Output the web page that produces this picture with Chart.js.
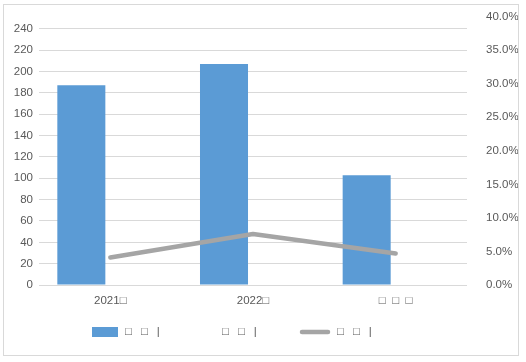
<!DOCTYPE html>
<html>
<head>
<meta charset="utf-8">
<script src="https://cdn.jsdelivr.net/npm/chart.js@4"></script>
<style>
  body { margin: 0; background: #fff; }
  #wrap { position: relative; width: 526px; height: 362px; }
  #frame { position: absolute; left: 3px; top: 4px; width: 514px; height: 350px; border: 1px solid #d9d9d9; pointer-events: none; }
</style>
</head>
<body>
<div id="wrap">
  <canvas id="chart" width="526" height="362"></canvas>
  <div id="frame"></div>
</div>
<script>
const categories = ['2021\u25A1', '2022\u25A1', '\u25A1  \u25A1  \u25A1'];
const seriesNames = ['\u25A1\u2002 \u25A1\u2002 |', '\u25A1\u2002 \u25A1\u2002 |', '\u25A1\u2002 \u25A1\u2002 |'];
const barValues = [187.2, 207.2, 102.8];
const otherBarValues = [null, null, null];
const growthValues = [0.041, 0.076, 0.047];
const leftTicks = [0, 20, 40, 60, 80, 100, 120, 140, 160, 180, 200, 220, 240];

const textColor = '#595959';
const font = { family: 'Liberation Sans', size: 11.5 };

// legend drawn by hand so the swatches match the original
const legendPlugin = {
  id: 'manualLegend',
  afterDraw(chart) {
    const ctx = chart.ctx;
    const y = 332;
    const items = [
      { x: 92, w: 26, type: 'rect', ds: chart.data.datasets[0] },
      { x: 189, w: 26, type: 'none', ds: chart.data.datasets[1] },
      { x: 300, w: 30, type: 'line', ds: chart.data.datasets[2] }
    ];
    ctx.save();
    ctx.font = font.size + 'px ' + font.family;
    ctx.textBaseline = 'middle';
    items.forEach(it => {
      if (it.type === 'rect') {
        ctx.fillStyle = it.ds.backgroundColor;
        ctx.fillRect(it.x, y - 5, it.w, 10);
      } else if (it.type === 'line') {
        ctx.strokeStyle = it.ds.borderColor;
        ctx.lineWidth = 4.5;
        ctx.lineCap = 'round';
        ctx.beginPath();
        ctx.moveTo(it.x + 2, y);
        ctx.lineTo(it.x + it.w - 2, y);
        ctx.stroke();
      }
      ctx.fillStyle = textColor;
      ctx.fillText(it.ds.label, it.x + it.w + 7, y);
    });
    ctx.restore();
  }
};

new Chart(document.getElementById('chart'), {
  data: {
    labels: categories,
    datasets: [
      {
        type: 'bar',
        label: seriesNames[0],
        data: barValues,
        backgroundColor: '#5b9bd5',
        yAxisID: 'y',
        categoryPercentage: 0.813,
        barPercentage: 0.828,
        order: 2
      },
      {
        type: 'bar',
        label: seriesNames[1],
        data: otherBarValues,
        backgroundColor: 'rgba(0,0,0,0)',
        yAxisID: 'y',
        categoryPercentage: 0.813,
        barPercentage: 0.828,
        order: 3
      },
      {
        type: 'line',
        label: seriesNames[2],
        data: growthValues,
        borderColor: '#a5a5a5',
        backgroundColor: '#a5a5a5',
        borderWidth: 4.5,
        borderCapStyle: 'round',
        borderJoinStyle: 'round',
        pointRadius: 0,
        tension: 0,
        yAxisID: 'y1',
        order: 1
      }
    ]
  },
  options: {
    responsive: false,
    animation: false,
    layout: { padding: { top: 16.6, left: 0, right: 0, bottom: 0 } },
    plugins: {
      legend: { display: false },
      tooltip: { enabled: false }
    },
    scales: {
      x: {
        offset: true,
        grid: { display: false, drawTicks: false },
        border: { display: false },
        ticks: { color: textColor, font: font, padding: 9, maxRotation: 0 },
        afterFit(scale) { scale.height = 77; }
      },
      y: {
        position: 'left',
        min: 0,
        max: 251.6,
        afterBuildTicks(scale) { scale.ticks = leftTicks.map(v => ({ value: v })); },
        grid: { color: '#d9d9d9', lineWidth: 1, drawTicks: false },
        border: { display: false },
        ticks: { color: textColor, font: font, padding: 6 },
        afterFit(scale) { scale.width = 39; }
      },
      y1: {
        position: 'right',
        min: 0,
        max: 0.4,
        grid: { display: false, drawTicks: true, tickLength: 19 },
        border: { display: false },
        ticks: {
          stepSize: 0.05,
          color: textColor,
          font: font,
          padding: 0,
          callback: v => (v * 100).toFixed(1) + '%'
        },
        afterFit(scale) { scale.width = 59; }
      }
    }
  },
  plugins: [legendPlugin]
});
</script>
</body>
</html>
